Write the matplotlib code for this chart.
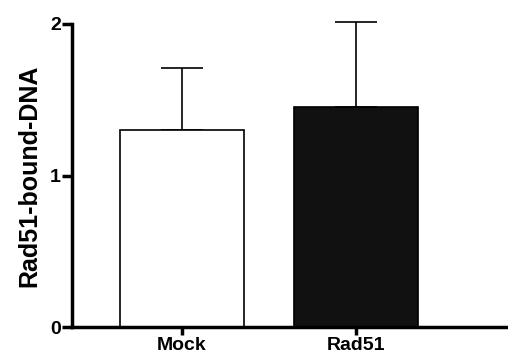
import matplotlib
matplotlib.use("Agg")
import matplotlib.pyplot as plt

categories = ["Mock", "Rad51"]
values = [1.30, 1.45]
errors = [0.41, 0.56]
colors = ["white", "#111111"]
yticks = [0, 1, 2]

plt.rcParams['font.family'] = ['Liberation Sans', 'DejaVu Sans']

fig = plt.figure(figsize=(5.08, 3.61), dpi=100)
ax = fig.add_axes([72/508, 1-327/361, 1-72/508, (327-24)/361])

x = list(range(len(categories)))
ax.bar(x, values, width=0.71, color=colors, edgecolor="black", linewidth=1.2, zorder=2)
eb = ax.errorbar(x, values, yerr=[[0]*len(errors), errors], fmt="none", ecolor="black",
                 elinewidth=1.2, capsize=15, capthick=1.2, zorder=1)
for artist in eb.lines[1] + eb.lines[2]:
    artist.set_clip_on(False)

ax.set_xlim(-0.632, 1.874)
ax.set_ylim(0, 2)
ax.set_yticks(yticks)
ax.set_yticklabels([str(t) for t in yticks], fontsize=14, fontweight="bold")
ax.set_xticks(x)
ax.set_xticklabels(categories, fontsize=14, fontweight="bold")
ax.set_ylabel("Rad51-bound-DNA", fontsize=18, fontweight="bold", labelpad=6)

for s in ["top", "right"]:
    ax.spines[s].set_visible(False)
for s in ["left", "bottom"]:
    ax.spines[s].set_linewidth(2.5)
ax.tick_params(axis="y", length=7, width=2.5, pad=1)
ax.tick_params(axis="x", length=6, width=2.5, pad=1)

fig.savefig("out.png", dpi=100)
